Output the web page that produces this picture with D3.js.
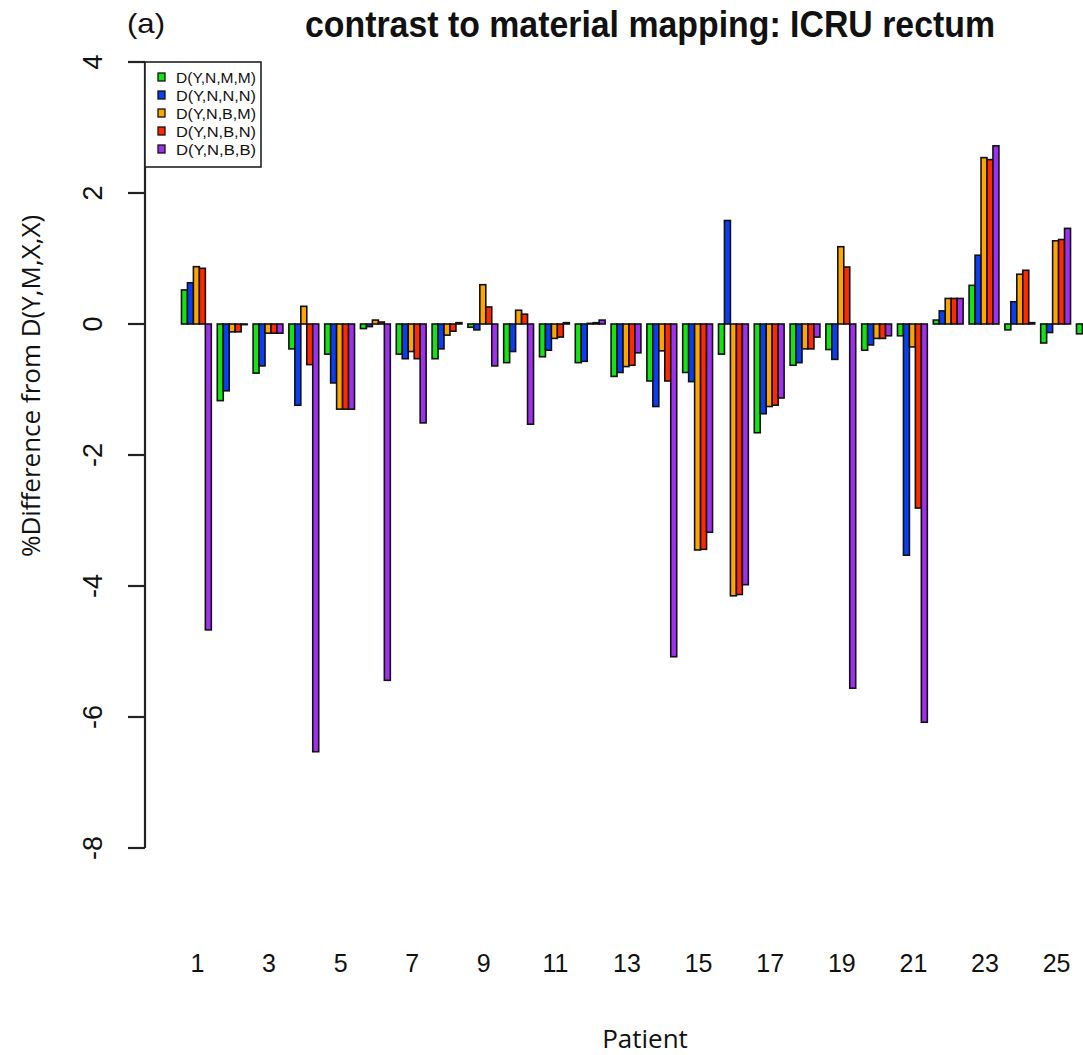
<!DOCTYPE html>
<html>
<head>
<meta charset="utf-8">
<script src="https://cdn.jsdelivr.net/npm/d3@7"></script>
<style>
  body { margin: 0; background: #fff; }
  svg { display: block; }
</style>
</head>
<body>
<svg id="chart"></svg>
<script>
// patients 1..26 (26 is cut off at the right edge)
const patients = d3.range(1, 27);
const seriesNames = ['D(Y,N,M,M)', 'D(Y,N,N,N)', 'D(Y,N,B,M)', 'D(Y,N,B,N)', 'D(Y,N,B,B)'];
const colors = ['#14e414', '#0a3ef5', '#ffa500', '#ff2a00', '#a030f0'];

// % difference values, one array per series
const green  = [0.52, -1.17, -0.75, -0.38, -0.46, -0.07, -0.46, -0.53, -0.05, -0.59, -0.50, -0.59, -0.80, -0.87, -0.74, -0.46, -1.66, -0.63, -0.39, -0.40, -0.18, 0.06, 0.59, -0.09, -0.29, -0.15];
const blue   = [0.63, -1.02, -0.64, -1.24, -0.90, -0.04, -0.53, -0.38, -0.09, -0.42, -0.40, -0.57, -0.74, -1.26, -0.88, 1.58, -1.37, -0.59, -0.54, -0.32, -3.53, 0.20, 1.05, 0.34, -0.13, null];
const orange = [0.875, -0.12, -0.14, 0.27, -1.30, 0.06, -0.42, -0.17, 0.60, 0.21, -0.22, 0.01, -0.65, -0.41, -3.45, -4.15, -1.26, -0.38, 1.18, -0.22, -0.35, 0.39, 2.54, 0.76, 1.27, null];
const red    = [0.85, -0.12, -0.14, -0.62, -1.30, 0.03, -0.53, -0.11, 0.26, 0.15, -0.20, 0.02, -0.63, -0.87, -3.44, -4.13, -1.24, -0.38, 0.87, -0.22, -2.81, 0.39, 2.51, 0.82, 1.29, null];
const purple = [-4.67, -0.01, -0.14, -6.53, -1.30, -5.44, -1.51, 0.02, -0.64, -1.53, 0.02, 0.06, -0.44, -5.08, -3.18, -3.98, -1.13, -0.20, -5.56, -0.18, -6.08, 0.39, 2.72, 0.02, 1.46, null];

const yTicks = [4, 2, 0, -2, -4, -6, -8];
const xTickLabels = [1, 3, 5, 7, 9, 11, 13, 15, 17, 19, 21, 23, 25];

const config = {
    width: 1083,
    height: 1055,
    plotLeft: 178.5,
    step: 35.8,
    yTop: 62,
    yBottom: 848
};

const allSeries = [green, blue, orange, red, purple];

let svg = d3.select('#chart')
    .attr('width', config.width)
    .attr('height', config.height);

svg.append('rect')
    .attr('width', config.width)
    .attr('height', config.height)
    .attr('fill', '#fff');

// scales
let xScale = d3.scaleBand()
    .domain(patients)
    .range([config.plotLeft, config.plotLeft + patients.length * config.step])
    .paddingInner(1 / 6)
    .paddingOuter(1 / 12);

let xInner = d3.scaleBand()
    .domain(d3.range(seriesNames.length))
    .range([0, xScale.bandwidth()]);

let yScale = d3.scaleLinear()
    .domain([-8, 4])
    .range([config.yBottom, config.yTop]);

// bars
const barData = [];
patients.forEach((p, i) => {
    allSeries.forEach((s, j) => {
        if (s[i] !== null) barData.push({ patient: p, series: j, value: s[i] });
    });
});

svg.append('g')
    .selectAll('rect')
    .data(barData)
    .enter()
    .append('rect')
    .attr('x', d => xScale(d.patient) + xInner(d.series))
    .attr('y', d => yScale(Math.max(0, d.value)))
    .attr('width', xInner.bandwidth())
    .attr('height', d => Math.abs(yScale(d.value) - yScale(0)))
    .style('fill', d => colors[d.series])
    .style('stroke', '#111')
    .style('stroke-width', 1.6);

// y axis
let yAxis = d3.axisLeft(yScale)
    .tickValues(yTicks)
    .tickSize(17)
    .tickFormat(d => d < 0 ? '-' + Math.abs(d) : d);

let yg = svg.append('g')
    .attr('transform', 'translate(145,0)')
    .call(yAxis);
yg.select('.domain').attr('stroke', '#222').attr('stroke-width', 2.2).attr('d', `M0,${config.yTop}V${config.yBottom}`);
yg.selectAll('.tick line').attr('stroke', '#222').attr('stroke-width', 2.2);
yg.selectAll('.tick text')
    .attr('x', 0).attr('y', 0).attr('dy', null)
    .attr('transform', d => `translate(-43,${yScale(d)}) rotate(-90)`)
    .style('text-anchor', 'middle')
    .style('font-family', 'Liberation Sans, Arial, sans-serif')
    .style('font-size', '27px')
    .style('fill', '#111');
yg.selectAll('.tick').attr('transform', null);
yg.selectAll('.tick line').attr('y1', d => yScale(d)).attr('y2', d => yScale(d));

// x tick labels (odd patients only, as R drops the crowded ones)
svg.append('g')
    .selectAll('text')
    .data(xTickLabels)
    .enter()
    .append('text')
    .attr('x', d => xScale(d) + xScale.bandwidth() / 2 + 1)
    .attr('y', 972)
    .attr('text-anchor', 'middle')
    .style('font-family', 'Liberation Sans, Arial, sans-serif')
    .style('font-size', '25px')
    .style('fill', '#111')
    .text(d => d);

// legend
let legend = svg.append('g');
legend.append('rect')
    .attr('x', 145).attr('y', 62)
    .attr('width', 116).attr('height', 105)
    .attr('fill', '#fff')
    .attr('stroke', '#222')
    .attr('stroke-width', 1.6);
seriesNames.forEach((name, i) => {
    legend.append('rect')
        .attr('x', 158).attr('y', 73 + i * 18)
        .attr('width', 7).attr('height', 8)
        .style('fill', colors[i])
        .style('stroke', '#111')
        .style('stroke-width', 1.3);
    legend.append('text')
        .attr('x', 176).attr('y', 82.5 + i * 18)
        .attr('textLength', 80)
        .attr('lengthAdjust', 'spacingAndGlyphs')
        .style('font-family', 'Liberation Sans, Arial, sans-serif')
        .style('font-size', '14.5px')
        .style('fill', '#111')
        .text(name);
});

// titles
svg.append('text')
    .attr('x', 650).attr('y', 37)
    .attr('text-anchor', 'middle')
    .attr('textLength', 690)
    .attr('lengthAdjust', 'spacingAndGlyphs')
    .style('font-family', 'Liberation Sans Narrow, Liberation Sans, Arial, sans-serif')
    .style('font-weight', 'bold')
    .style('font-size', '36px')
    .style('fill', '#111')
    .text('contrast to material mapping: ICRU rectum');

svg.append('text')
    .attr('x', 127).attr('y', 33)
    .attr('textLength', 38)
    .attr('lengthAdjust', 'spacingAndGlyphs')
    .style('font-family', 'Liberation Sans, Arial, sans-serif')
    .style('font-size', '28px')
    .style('fill', '#111')
    .text('(a)');

svg.append('text')
    .attr('x', 645).attr('y', 1048)
    .attr('text-anchor', 'middle')
    .style('font-family', 'Open Sans, sans-serif')
    .style('font-size', '26px')
    .style('fill', '#111')
    .text('Patient');

svg.append('text')
    .attr('transform', 'translate(40,386) rotate(-90)')
    .attr('text-anchor', 'middle')
    .style('font-family', 'Open Sans, sans-serif')
    .style('font-size', '26px')
    .style('fill', '#111')
    .text('%Difference from D(Y,M,X,X)');
</script>
</body>
</html>
